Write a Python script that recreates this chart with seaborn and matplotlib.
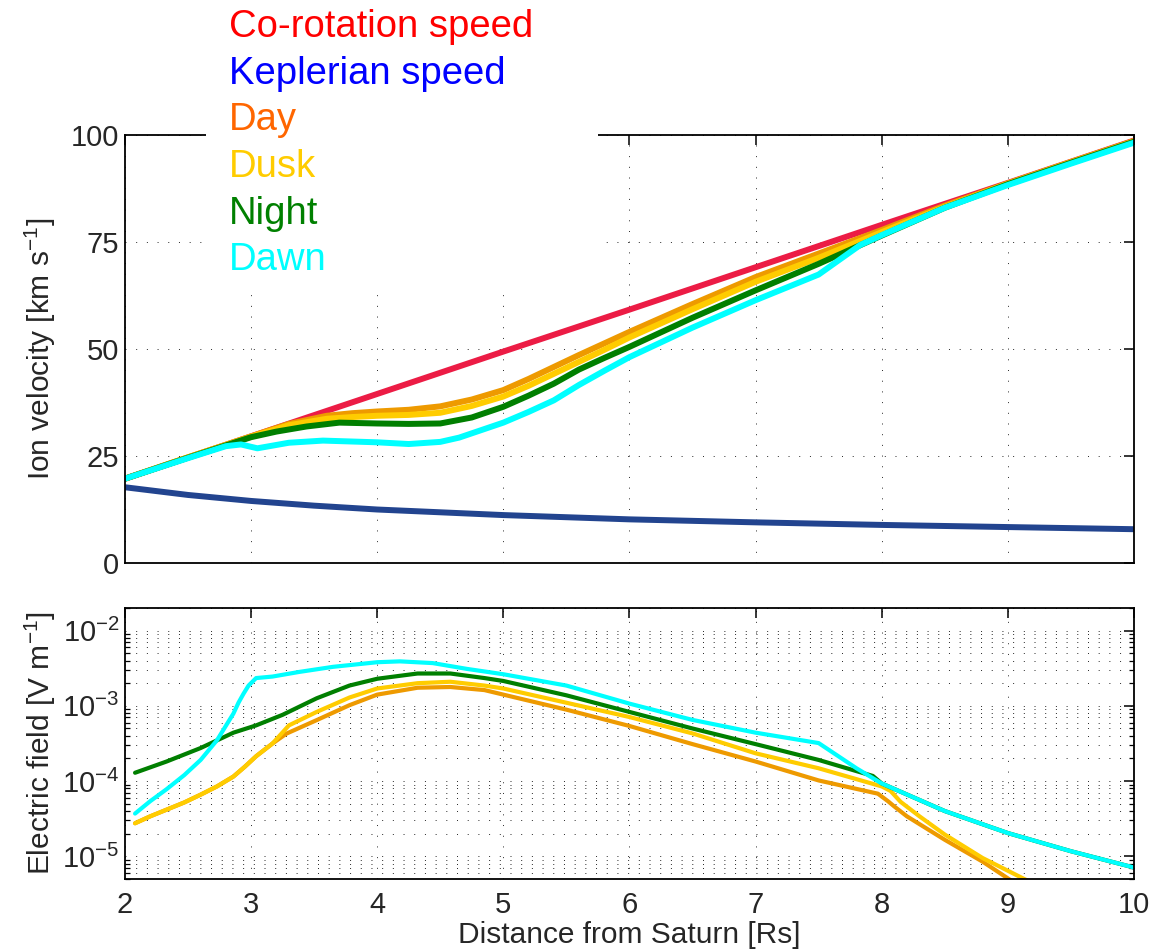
import numpy as np
import pandas as pd
import matplotlib
matplotlib.use("Agg")
import matplotlib.pyplot as plt
from matplotlib.lines import Line2D
from matplotlib.patches import Rectangle
from matplotlib.ticker import LogLocator, NullFormatter
import seaborn as sns

# ---------------- data ----------------
# Top panel: ion velocity [km/s] vs distance [Rs]
r_corot = [2, 3, 4, 5, 6, 7, 8, 9, 10]
v_corot = [19.7, 29.6, 39.5, 49.4, 59.2, 69.1, 79.0, 88.8, 98.7]

r_kepler = [2, 2.5, 3, 3.5, 4, 5, 6, 7, 8, 9, 10]
v_kepler = [17.7, 15.9, 14.5, 13.4, 12.5, 11.2, 10.2, 9.5, 8.9, 8.4, 7.9]

r_day = [2, 2.5, 3, 3.3, 3.6, 3.8, 4, 4.25, 4.5, 4.75, 5, 5.2, 5.4, 5.6, 5.8, 6, 6.5, 7,
         7.5, 8, 8.5, 9, 9.5, 10]
v_day = [19.7, 24.7, 29.6, 32.5, 34.4, 35.0, 35.4, 35.8, 36.6, 38.2, 40.4, 43.0, 45.8,
         48.6, 51.3, 54.0, 60.5, 66.8, 72.3, 77.8, 83.5, 88.7, 93.7, 98.6]

r_dusk = [2, 2.5, 3, 3.3, 3.6, 3.8, 4, 4.25, 4.5, 4.75, 5, 5.2, 5.4, 5.6, 5.8, 6, 6.5, 7,
          7.5, 8, 8.5, 9, 9.5, 10]
v_dusk = [19.7, 24.7, 29.5, 32.2, 33.7, 34.1, 34.4, 34.6, 35.1, 36.7, 38.9, 41.4, 44.2,
          47.0, 49.8, 52.7, 59.3, 65.7, 71.3, 77.3, 83.2, 88.6, 93.6, 98.5]

r_night = [2, 2.5, 3, 3.2, 3.44, 3.7, 4, 4.25, 4.5, 4.75, 5, 5.2, 5.4, 5.6, 5.8, 6, 6.5,
           7, 7.5, 8, 8.5, 9, 9.5, 10]
v_night = [19.7, 24.6, 29.4, 30.7, 31.9, 32.8, 32.6, 32.5, 32.6, 34.0, 36.5, 39.1, 41.9,
           45.2, 47.9, 50.5, 57.3, 63.7, 69.9, 76.5, 83.0, 88.5, 93.5, 98.4]

r_dawn = [2, 2.5, 2.8, 2.92, 3.05, 3.3, 3.57, 4, 4.25, 4.5, 4.65, 4.82, 5, 5.2, 5.4, 5.6,
          5.8, 6, 6.5, 7, 7.5, 7.83, 8, 8.5, 9, 9.5, 10]
v_dawn = [19.7, 24.5, 27.3, 27.7, 26.8, 28.1, 28.6, 28.2, 27.8, 28.3, 29.3, 31.0, 32.8,
          35.3, 38.0, 41.6, 44.9, 48.1, 55.0, 61.4, 67.4, 74.3, 76.6, 83.0, 88.3, 93.3, 98.2]

# Bottom panel: electric field [V/m] vs distance [Rs]
r_e_day = [2.08, 2.2, 2.33, 2.47, 2.6, 2.73, 2.86, 2.95, 3.04, 3.17, 3.28, 3.52, 3.78,
           4.0, 4.32, 4.58, 4.85, 5.0, 5.5, 6.0, 6.5, 7.0, 7.5, 7.97, 8.05, 8.1, 8.2,
           8.5, 8.8, 9.0, 9.05]
e_day = [2.75e-5, 3.4e-5, 4.17e-5, 5.2e-5, 6.6e-5, 8.5e-5, 1.15e-4, 1.55e-4, 2.14e-4,
         3.16e-4, 4.27e-4, 6.46e-4, 1.02e-3, 1.41e-3, 1.74e-3, 1.78e-3, 1.62e-3, 1.41e-3,
         8.9e-4, 5.4e-4, 3.1e-4, 1.82e-4, 1.02e-4, 6.8e-5, 5.4e-5, 4.6e-5, 3.4e-5,
         1.66e-5, 8.5e-6, 5.1e-6, 4.5e-6]

r_e_dusk = [2.08, 2.2, 2.33, 2.47, 2.6, 2.73, 2.86, 2.95, 3.04, 3.17, 3.3, 3.52, 3.78,
            4.0, 4.32, 4.58, 4.85, 5.0, 5.5, 6.0, 6.5, 7.0, 7.5, 8.0, 8.07, 8.15, 8.3,
            8.5, 8.8, 9.13, 9.2]
e_dusk = [2.75e-5, 3.4e-5, 4.17e-5, 5.2e-5, 6.6e-5, 8.5e-5, 1.15e-4, 1.55e-4, 2.14e-4,
          3.16e-4, 5.5e-4, 8.3e-4, 1.29e-3, 1.70e-3, 2.0e-3, 2.09e-3, 1.86e-3, 1.70e-3,
          1.10e-3, 7.1e-4, 4.3e-4, 2.34e-4, 1.48e-4, 8.5e-5, 7.4e-5, 5.3e-5, 3.4e-5,
          1.95e-5, 9.5e-6, 5.0e-6, 4.4e-6]

r_e_night = [2.08, 2.33, 2.6, 2.86, 3.04, 3.25, 3.52, 3.78, 4.0, 4.32, 4.58, 4.85, 5.0,
             5.5, 6.0, 6.5, 7.0, 7.5, 7.93, 8.0, 8.5, 9.0, 9.5, 10.0]
e_night = [1.29e-4, 1.82e-4, 2.75e-4, 4.4e-4, 5.5e-4, 7.6e-4, 1.26e-3, 1.86e-3, 2.29e-3,
           2.69e-3, 2.69e-3, 2.34e-3, 2.14e-3, 1.38e-3, 8.3e-4, 5.0e-4, 3.1e-4, 1.91e-4,
           1.17e-4, 9.3e-5, 4.0e-5, 2.04e-5, 1.17e-5, 7.1e-6]

r_e_dawn = [2.08, 2.2, 2.33, 2.47, 2.6, 2.73, 2.86, 2.9, 2.94, 2.98, 3.04, 3.17, 3.38,
            3.65, 4.0, 4.18, 4.44, 4.71, 5.0, 5.5, 6.0, 6.5, 7.0, 7.5, 7.8, 8.0, 8.5,
            9.0, 9.5, 10.0]
e_dawn = [3.7e-5, 5.4e-5, 7.8e-5, 1.2e-4, 1.91e-4, 3.5e-4, 7.9e-4, 1.1e-3, 1.45e-3,
          1.86e-3, 2.34e-3, 2.45e-3, 2.82e-3, 3.3e-3, 3.8e-3, 3.9e-3, 3.7e-3, 3.1e-3,
          2.63e-3, 1.86e-3, 1.07e-3, 6.5e-4, 4.4e-4, 3.2e-4, 1.48e-4, 9.3e-5, 4.0e-5,
          2.04e-5, 1.17e-5, 7.1e-6]

legend_labels = ["Co-rotation speed", "Keplerian speed", "Day", "Dusk", "Night", "Dawn"]
legend_colors = ["#FF0000", "#0000FF", "#FF6600", "#FFCC00", "#008000", "#00FFFF"]
x_ticks = [2, 3, 4, 5, 6, 7, 8, 9, 10]
v_ticks = [0, 25, 50, 75, 100]

# ---------------- style ----------------
sns.set_style("white")
plt.rcParams["font.family"] = ["Liberation Sans", "DejaVu Sans"]
plt.rcParams["mathtext.fontset"] = "custom"
plt.rcParams["mathtext.rm"] = "Liberation Sans"
plt.rcParams["mathtext.it"] = "Liberation Sans:italic"
plt.rcParams["mathtext.bf"] = "Liberation Sans:bold"
plt.rcParams["axes.unicode_minus"] = False

c_corot = "#EC1C45"
c_kepler = "#22448F"
c_day = "#EE9A00"
c_dusk = "#FFCC00"
c_night = "#007F00"
c_dawn = "#00FFFF"

fig = plt.figure(figsize=(11.69, 9.52), dpi=100)
ax1 = fig.add_axes([0.1069, 0.4086, 0.8631, 0.4496])
ax2 = fig.add_axes([0.1069, 0.0767, 0.8631, 0.2847])

grid_kw = dict(color="0.15", linewidth=0.7, linestyle=(0, (1, 10)))
tick_fs = 21
label_fs = 21.5

# ---------------- top panel ----------------
lw1 = 4.3
sns.lineplot(x=r_corot, y=v_corot, ax=ax1, color=c_corot, lw=lw1, legend=False)
sns.lineplot(x=r_kepler, y=v_kepler, ax=ax1, color=c_kepler, lw=lw1, legend=False)
sns.lineplot(x=r_day, y=v_day, ax=ax1, color=c_day, lw=lw1, legend=False)
sns.lineplot(x=r_dusk, y=v_dusk, ax=ax1, color=c_dusk, lw=lw1, legend=False)
sns.lineplot(x=r_night, y=v_night, ax=ax1, color=c_night, lw=lw1, legend=False)
sns.lineplot(x=r_dawn, y=v_dawn, ax=ax1, color=c_dawn, lw=lw1, legend=False)

ax1.set_xlim(2, 10)
ax1.set_ylim(0, 100)
ax1.set_xticks(x_ticks)
ax1.set_yticks(v_ticks)
ax1.set_yticklabels([str(v) for v in v_ticks])
ax1.tick_params(axis="both", which="major", direction="in", top=True, right=True,
                length=7, width=1.1, labelsize=tick_fs, labelbottom=False, pad=4,
                color="black")
ax1.grid(True, which="major", **grid_kw)
ax1.set_axisbelow(True)
ax1.set_ylabel("Ion velocity [km s$^{-1}$]", fontsize=label_fs)
ax1.yaxis.set_label_coords(-0.066, 0.5)
ax1.set_xlabel("")

# white legend box that interrupts the top frame
ax1.add_patch(Rectangle((206 / 1169, 1 - 290 / 952), (598 - 206) / 1169, 290 / 952,
                        transform=fig.transFigure, facecolor="white", edgecolor="none",
                        clip_on=False, zorder=4))

handles = [Line2D([], [], linestyle="none") for _ in legend_labels]
leg = ax1.legend(handles, legend_labels, loc="upper left",
                 bbox_to_anchor=(208 / 1169, 1 + 12 / 952), bbox_transform=fig.transFigure,
                 fontsize=27.5, handlelength=0.0, handletextpad=0.0,
                 labelspacing=0.28, borderpad=0.55, borderaxespad=0.0, frameon=False)
for txt, col in zip(leg.get_texts(), legend_colors):
    txt.set_color(col)
leg.set_zorder(10)

# ---------------- bottom panel ----------------
lw2 = 3.0
ax2.set_yscale("log")
sns.lineplot(x=r_e_day, y=e_day, ax=ax2, color=c_day, lw=lw2, legend=False)
sns.lineplot(x=r_e_dusk, y=e_dusk, ax=ax2, color=c_dusk, lw=lw2, legend=False)
sns.lineplot(x=r_e_night, y=e_night, ax=ax2, color=c_night, lw=lw2, legend=False)
sns.lineplot(x=r_e_dawn, y=e_dawn, ax=ax2, color=c_dawn, lw=lw2, legend=False)

ax2.set_xlim(2, 10)
ax2.set_ylim(5e-6, 2e-2)
ax2.set_xticks(x_ticks)
ax2.set_xticklabels([str(v) for v in x_ticks])
ax2.yaxis.set_major_locator(LogLocator(base=10, numticks=10))
ax2.yaxis.set_minor_locator(LogLocator(base=10, subs=np.arange(2, 10), numticks=20))
ax2.yaxis.set_minor_formatter(NullFormatter())
ax2.tick_params(axis="both", which="major", direction="in", top=True, right=True,
                length=7, width=1.1, labelsize=tick_fs, pad=9, color="black")
ax2.tick_params(axis="y", which="minor", direction="in", left=True, right=True,
                length=3.5, width=0.9, color="black")
ax2.tick_params(axis="y", which="major", pad=4)
ax2.grid(True, which="major", **grid_kw)
ax2.yaxis.grid(True, which="minor", **grid_kw)
ax2.set_axisbelow(True)
ax2.set_ylabel("Electric field [V m$^{-1}$]", fontsize=label_fs)
ax2.yaxis.set_label_coords(-0.066, 0.5)
ax2.set_xlabel("Distance from Saturn [Rs]", fontsize=label_fs)
ax2.xaxis.set_label_coords(0.5, -0.155)

for ax in (ax1, ax2):
    for sp in ax.spines.values():
        sp.set_visible(True)
        sp.set_color("black")
        sp.set_linewidth(1.3)

fig.savefig("out.png", dpi=100, facecolor="white")
